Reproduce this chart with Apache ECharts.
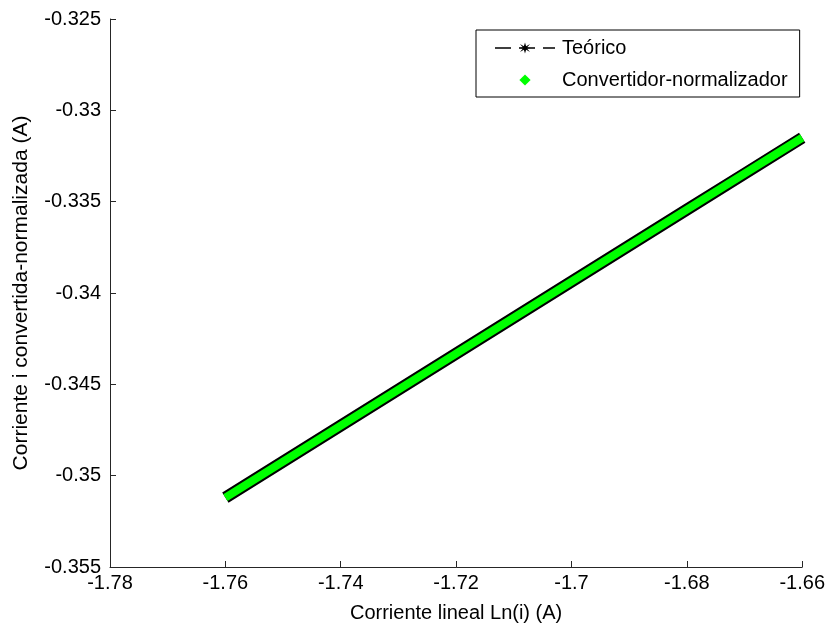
<!DOCTYPE html>
<html>
<head>
<meta charset="utf-8">
<script src="https://cdn.jsdelivr.net/npm/echarts@6/dist/echarts.min.js"></script>
<style>
  html, body { margin: 0; padding: 0; background: #fff; }
  #chart { width: 828px; height: 629px; }
</style>
</head>
<body>
<div id="chart"></div>
<script>
// values
const corrienteLineal = [-1.76, -1.75, -1.74, -1.73, -1.72, -1.71, -1.70, -1.69, -1.68, -1.67, -1.66];
const teorico = [-0.35120, -0.34923, -0.34726, -0.34529, -0.34332, -0.34135, -0.33938, -0.33741, -0.33544, -0.33347, -0.33150];
const convertido = [-0.35120, -0.34923, -0.34726, -0.34529, -0.34332, -0.34135, -0.33938, -0.33741, -0.33544, -0.33347, -0.33150];

const font = "Liberation Sans, Arial, sans-serif";
const starPath = "path://M5,0L6,3.5L9.5,1.5L6.8,4.6L10,5L6.8,5.4L9.5,8.5L6,6.5L5,10L4,6.5L0.5,8.5L3.2,5.4L0,5L3.2,4.6L0.5,1.5L4,3.5Z";

const chart = echarts.init(document.getElementById("chart"));

const option = {
  animation: false,
  backgroundColor: "#fff",
  grid: { left: 110, top: 19, right: 22, bottom: 62, containLabel: false },
  legend: {
    left: 476,
    top: 30,
    orient: "vertical",
    backgroundColor: "#fff",
    borderColor: "#000",
    borderWidth: 1,
    borderRadius: 0,
    padding: [8, 12, 7, 18],
    itemWidth: 60,
    itemHeight: 14,
    itemGap: 12,
    textStyle: { fontFamily: font, fontSize: 20, color: "#000", padding: [0, 0, 0, 2] },
    data: [
      { name: "Teórico", itemStyle: { color: "#000" }, lineStyle: { width: 1.5, color: "#000", type: [16, 8] } },
      { name: "Convertidor-normalizador", itemStyle: { color: "#00ff00" }, lineStyle: { opacity: 0 } }
    ]
  },
  xAxis: {
    type: "value",
    min: -1.78,
    max: -1.66,
    interval: 0.02,
    name: "Corriente lineal Ln(i) (A)",
    nameLocation: "middle",
    nameGap: 36,
    nameTextStyle: { fontFamily: font, fontSize: 20, color: "#000" },
    axisLine: { onZero: false, lineStyle: { color: "#262626", width: 1 } },
    axisTick: { inside: true, length: 6, lineStyle: { color: "#262626" } },
    axisLabel: { fontFamily: font, fontSize: 20, color: "#000", margin: 6, formatter: v => String(+v.toFixed(2)) },
    splitLine: { show: false }
  },
  yAxis: {
    type: "value",
    min: -0.355,
    max: -0.325,
    interval: 0.005,
    name: "Corriente i convertida-normalizada (A)",
    nameLocation: "middle",
    nameGap: 78,
    nameTextStyle: { fontFamily: font, fontSize: 21, color: "#000" },
    axisLine: { onZero: false, lineStyle: { color: "#262626", width: 1 } },
    axisTick: { inside: true, length: 6, lineStyle: { color: "#262626" } },
    axisLabel: { fontFamily: font, fontSize: 20, color: "#000", margin: 9, formatter: v => String(+v.toFixed(3)) },
    splitLine: { show: false }
  },
  series: [
    {
      name: "Teórico",
      type: "line",
      data: corrienteLineal.map((x, i) => [x, teorico[i]]),
      symbol: starPath,
      symbolSize: 11,
      showSymbol: false,
      itemStyle: { color: "#000" },
      lineStyle: { color: "#000", width: 12 },
      z: 2
    },
    {
      name: "Convertidor-normalizador",
      type: "line",
      data: corrienteLineal.map((x, i) => [x, convertido[i]]),
      symbol: "diamond",
      symbolSize: 7,
      showSymbol: false,
      itemStyle: { color: "#00ff00" },
      lineStyle: { color: "#00ff00", width: 8 },
      z: 3
    }
  ]
};

chart.setOption(option);
</script>
</body>
</html>
